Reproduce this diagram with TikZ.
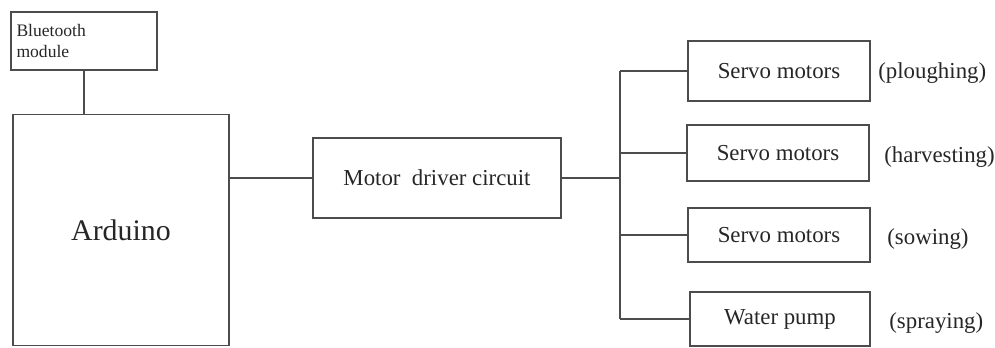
\documentclass[tikz,border=0pt]{standalone}
\usepackage{fontspec}
\setmainfont{Liberation Serif}
\begin{document}
\begin{tikzpicture}[x=0.02cm, y=-0.02cm,
    box/.style={draw=black!70, line width=0.7pt, rectangle, text=black!85, inner sep=2pt},
    wire/.style={draw=black!70, line width=0.7pt},
    txt/.style={text=black!85, font=\fontsize{13}{15}\selectfont}]
    \useasboundingbox (0,0) rectangle (995,348);

    % 左侧
    \node[box, minimum width=2.92cm, minimum height=1.16cm, text width=2.7cm, align=left,
          font=\fontsize{10}{12}\selectfont] (bt) at (84,41) {Bluetooth\\module};
    \node[box, minimum width=4.32cm, minimum height=4.62cm,
          font=\fontsize{17}{20}\selectfont] (ard) at (121,230) {Arduino};
    \draw[wire] (bt.south) -- (bt.south |- ard.north);

    % 驱动
    \node[box, txt, minimum width=4.96cm, minimum height=1.6cm] (drv) at (437,178) {Motor\ \ driver circuit};
    \draw[wire] (drv.west) -- (drv.west -| ard.east);

    % 输出
    \coordinate (bus) at (620,182);
    \node[box, txt, minimum width=3.64cm, minimum height=1.2cm] (s1) at (779,71) {Servo motors};
    \node[box, txt, minimum width=3.64cm, minimum height=1.12cm] (s2) at (778,153) {Servo motors};
    \node[box, txt, minimum width=3.64cm, minimum height=1.08cm] (s3) at (779,235) {Servo motors};
    \node[box, txt, minimum width=3.6cm, minimum height=1.08cm] (s4) at (780,319) {Water pump};
    \draw[wire] (drv.east) -- (drv.east -| bus);
    \draw[wire] (s1.west -| bus) -- (s4.west -| bus);
    \foreach \i in {1,...,4} {
        \draw[wire] (s\i.west) -- (s\i.west -| bus);
    }

    % 标签
    \node[txt, anchor=west, inner sep=0pt] (l1) at (878,73) {(ploughing)};
    \node[txt, anchor=west, inner sep=0pt] (l2) at (884,157) {(harvesting)};
    \node[txt, anchor=west, inner sep=0pt] (l3) at (887,239) {(sowing)};
    \node[txt, anchor=west, inner sep=0pt] (l4) at (889,323) {(spraying)};
\end{tikzpicture}
\end{document}
